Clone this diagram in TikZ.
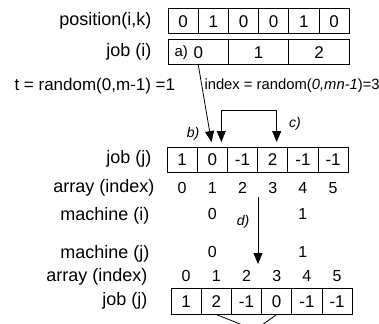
\documentclass[tikz,border=0pt]{standalone}
\usepackage{fontspec}
\setmainfont{Liberation Sans}
\usetikzlibrary{arrows.meta,positioning}

\tikzset{
  lbl/.style={font=\fontsize{18}{21}\selectfont, inner sep=0pt},
  cell/.style={draw, line width=1pt, minimum width=30.2pt, minimum height=25pt,
    inner sep=0pt, outer sep=0pt, font=\fontsize{17}{20}\selectfont},
  wcell/.style={cell, minimum width=60.35pt},
  tag/.style={font=\fontsize{14}{16}\selectfont\itshape, inner sep=0pt}
}

\begin{document}
\begin{tikzpicture}[x=1pt,y=-1pt,>={Triangle[width=9pt,length=11pt]},line width=1pt]
        \clip (0,0) rectangle (379,323);
        % Labels
        \node[lbl, anchor=east] (lpos) at (152,21) {position(i,k)};
        \node[lbl, anchor=east] (ljobi) at (152,52) {job (i)};
        \node[lbl, anchor=west, font=\fontsize{17}{20}\selectfont] (lt) at (14,86) {t = random(0,m-1) =1};
        \node[lbl, anchor=west, font=\fontsize{14.8}{18}\selectfont] (lidx) at (204,86) {index = random(\textit{0,mn-1})=3};
        \node[lbl, anchor=east] (ljobj) at (152,159) {job (j)};
        \node[lbl, anchor=east] (larr) at (155,188) {array (index)};
        \node[lbl, anchor=east] (lmach) at (150,216) {machine (i)};
        \node[lbl, anchor=east] (lmachb) at (150,254) {machine (j)};
        \node[lbl, anchor=east] (larrb) at (148,277) {array (index)};
        \node[lbl, anchor=east] (ljobjb) at (148,301) {job (j)};
        % position row
        \node[cell] (p0) at (183.1,21.5) {0};
        \node[cell, right=0pt of p0] (p1) {1};
        \node[cell, right=0pt of p1] (p2) {0};
        \node[cell, right=0pt of p2] (p3) {0};
        \node[cell, right=0pt of p3] (p4) {1};
        \node[cell, right=0pt of p4] (p5) {0};
        % job (i) row
        \node[wcell] (ji0) at (198.3,52.5) {0};
        \node[wcell, right=0pt of ji0] (ji1) {1};
        \node[wcell, right=0pt of ji1] (ji2) {2};
        \node[inner sep=0pt, font=\fontsize{15}{17}\selectfont] (ta) at ([xshift=-17pt]ji0.center) {a)};
        % job (j) row
        \node[cell] (ja0) at (182.1,159.5) {1};
        \node[cell, right=0pt of ja0] (ja1) {0};
        \node[cell, right=0pt of ja1] (ja2) {-1};
        \node[cell, right=0pt of ja2] (ja3) {2};
        \node[cell, right=0pt of ja3] (ja4) {-1};
        \node[cell, right=0pt of ja4] (ja5) {-1};
        % array (index) and machine
        \foreach \i in {0,...,5} {
          \node[lbl, font=\fontsize{16}{18}\selectfont] (ia\i) at (ja\i.center |- 0,188) {\i};
        }
        \node[lbl, font=\fontsize{16}{18}\selectfont] (ma0) at (ja1.center |- 0,214) {0};
        \node[lbl, font=\fontsize{16}{18}\selectfont] (ma1) at (ja4.center |- 0,214) {1};
        \node[lbl, font=\fontsize{16}{18}\selectfont] (mb0) at (ja1.center |- 0,252) {0};
        \node[lbl, font=\fontsize{16}{18}\selectfont] (mb1) at (ja4.center |- 0,252) {1};
        % bottom job (j) row
        \node[cell, minimum height=26pt] (jb0) at (186.1,301.5) {1};
        \node[cell, minimum height=26pt, right=0pt of jb0] (jb1) {2};
        \node[cell, minimum height=26pt, right=0pt of jb1] (jb2) {-1};
        \node[cell, minimum height=26pt, right=0pt of jb2] (jb3) {0};
        \node[cell, minimum height=26pt, right=0pt of jb3] (jb4) {-1};
        \node[cell, minimum height=26pt, right=0pt of jb4] (jb5) {-1};
        \foreach \i in {0,...,5} {
          \node[lbl, font=\fontsize{16}{18}\selectfont] (ib\i) at (jb\i.center |- 0,276) {\i};
        }
        % Steps
        \node[tag] (tb) at (193,134) {b)};
        \node[tag] (tc) at (295,124) {c)};
        \node[tag] (td) at (243,222) {d)};
        \coordinate (dtop) at (258,197);
        \coordinate (dbot) at (258,264);
        \coordinate (meet) at (255,330);
        % Arrows
        \draw[->, line width=0.8pt, shorten >=5pt] (ji0.south) -- (ja1.north);
        \draw[<->, line width=0.8pt, shorten <=5pt, shorten >=5pt] ([xshift=9pt]ja1.north) -- ++(0,-37) -| ([xshift=4pt]ja3.north);
        \draw[->, line width=0.8pt] (dtop) -- (dbot);
        \draw[line width=0.8pt] (jb1.south) -- (meet);
        \draw[line width=0.8pt] (jb3.south) -- (meet);

    \end{tikzpicture}
\end{document}
